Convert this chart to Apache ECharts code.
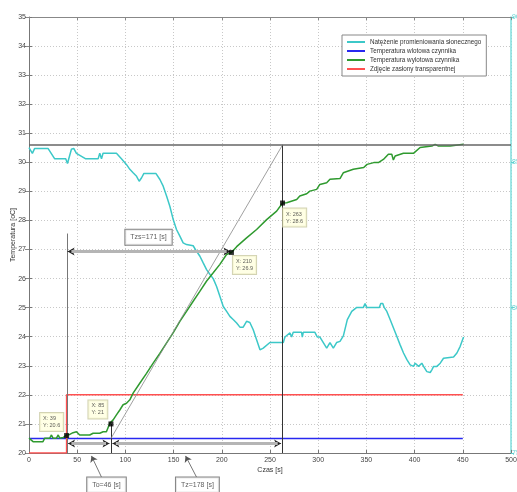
<!DOCTYPE html>
<html><head><meta charset="utf-8">
<script src="https://cdn.jsdelivr.net/npm/echarts@6/dist/echarts.min.js"></script>
<style>html,body{margin:0;padding:0;background:#fff}#c{width:517px;height:492px}</style>
</head><body><div id="c"></div>
<script>
// ---- data ----
const seriesNames = ['Natężenie promieniowania słonecznego','Temperatura wlotowa czynnika','Temperatura wylotowa czynnika','Zdjęcie zasłony transparentnej'];
// irradiance (right axis units) : [time s, value]
const irradiance = [[0,855.1],[3.5,853.1],[5.9,854.8],[19.7,854.8],[26.7,851.2],[38.1,851.2],[39.9,849.6],[44,854.5],[46.4,854.8],[49.2,853.1],[58.9,851.2],[71.7,851.2],[73.4,853.1],[75.2,851.2],[76.8,853.1],[90.7,853.1],[95.9,851.2],[101.2,849.2],[104.6,847.6],[108,846.4],[111.6,845.2],[114.3,843.5],[116.8,844.7],[119.2,846.2],[131.6,846.2],[135.8,844.1],[139.2,841.8],[142.7,838.4],[146.1,834.9],[149.6,830.3],[153,826.9],[156.5,824.6],[159.9,822.3],[163.4,821.7],[170.3,821.3],[173.8,819.4],[177.3,817.7],[180.7,815.4],[184.2,813.1],[187.6,811.5],[191.1,810.0],[194.6,807.3],[198,803.9],[201.5,800.4],[205,798.7],[208.4,797.0],[211.8,795.9],[215.4,794.7],[218.8,793.3],[222.2,793.3],[225.7,795.3],[229.1,794.9],[232.6,792.4],[236.1,789.0],[239.6,785.5],[243,786.1],[249.9,788.0],[263.8,788.0],[265.5,789.9],[270.7,791.3],[272.4,789.9],[274.1,791.5],[282.8,791.5],[283.5,789.9],[284.5,791.5],[296.6,791.5],[299,789.9],[301.8,789.9],[305.3,788.0],[308.8,786.1],[312.2,788.0],[315.7,786.1],[319.1,788.0],[322.6,788.4],[326.1,790.3],[330.2,795.9],[334.8,798.7],[340,800.1],[346.9,800.1],[348.6,801.4],[350.4,800.1],[363.5,800.1],[364.9,801.4],[367,801.4],[368.4,800.1],[371.2,798.7],[374.6,795.9],[378.1,793.0],[381.6,790.1],[385,787.2],[388.5,784.4],[392,782.1],[395.4,780.3],[398.9,779.8],[400.6,780.9],[404.1,779.8],[407.5,780.9],[409.3,779.8],[412.7,778.0],[416.2,777.7],[417.9,778.6],[419.7,779.8],[423.1,779.8],[426.6,780.9],[430,782.6],[440.4,783.0],[443.9,784.4],[447.3,786.7],[450.8,789.9]];
const inletTemp = [[0,20.5],[450,20.5]];
const outletTemp = [[0,20.51],[4.2,20.39],[14.5,20.39],[16.3,20.51],[21.5,20.51],[23.3,20.62],[24.9,20.51],[28.5,20.51],[30.3,20.62],[31.9,20.51],[35.4,20.53],[38.8,20.62],[42.3,20.64],[45.7,20.70],[49.2,20.73],[50.9,20.68],[52.6,20.62],[63,20.62],[66.5,20.68],[73.4,20.68],[76.9,20.73],[80.3,20.73],[83.8,21.02],[87.3,21.14],[90.7,21.31],[94.2,21.48],[97.6,21.66],[101.1,21.71],[104.6,21.83],[108,22.06],[114.9,22.40],[121.9,22.74],[128.8,23.09],[135.7,23.43],[142.6,23.78],[149.5,24.13],[156.5,24.53],[163.4,24.87],[170.3,25.22],[177.2,25.56],[184.1,25.91],[191.1,26.20],[198,26.49],[204.9,26.83],[210,26.9],[215.4,27.1],[225.7,27.4],[236.1,27.69],[246.5,28.03],[256.9,28.32],[263,28.6],[267.3,28.61],[277.7,28.72],[280.9,28.84],[288.1,28.92],[291.3,29.01],[298.4,29.07],[301.7,29.24],[308.8,29.30],[312.2,29.42],[322.6,29.44],[326,29.64],[336.4,29.76],[347.2,29.82],[350.7,29.93],[357.6,29.99],[359.4,30.04],[362.4,29.99],[367.6,30.10],[372.8,30.28],[376.3,30.28],[378,30.08],[379.8,30.22],[388.4,30.31],[398.8,30.31],[405.7,30.51],[417.9,30.56],[421.3,30.62],[424.8,30.56],[436.9,30.56],[438.6,30.62],[450.7,30.62]];
const curtain = [[0,20],[39,20],[39,22],[450,22]];
const dataTips = [[39,20.6],[85,21],[210,26.9],[263,28.6]];
const dataTipText = ['X: 39\nY: 20.6','X: 85\nY: 21','X: 210\nY: 26.9','X: 263\nY: 28.6'];
const steadyLevel = 30.6;
const timeAxis = {min:0, max:500, step:50};
const tempAxis = {min:20, max:35, step:1};
const irrAxis = {min:750, max:900, step:50};

const colors = ['#3cc8c8','#2828f0','#2f9a2f','#ff5050'];
const FONT = 'Liberation Sans';

const tipOffsets = [[-24,-20],[-20,-21],[4,6],[3,8]];

const chart = echarts.init(document.getElementById('c'), null, {renderer:'canvas'});

function seg(a, b, style, sym){
  return [{coord:a, symbol: sym ? sym[0] : 'none', lineStyle: style},
          {coord:b, symbol: sym ? sym[1] : 'none'}];
}
const gray = {color:'#777', width:1, type:'solid'};
const dark = {color:'#333', width:1, type:'solid'};
const shaft = {color:'#b5b5b5', width:3, type:'solid'};
const arrowLn = {color:'#222', width:0.8, type:'solid'};

const annotLines = [
  seg([0,steadyLevel],[500,steadyLevel],{color:'#666',width:1.5,type:'solid'}),
  seg([263,20],[263,steadyLevel],dark),
  seg([39.5,20],[39.5,27.55],gray),
  seg([85,20],[85,21],dark),
  seg([85,20.5],[263,steadyLevel],{color:'#888',width:0.8,type:'solid'}),
  // Tzs arrow
  seg([40,26.93],[209,26.93],arrowLn,['arrow','arrow']),
  seg([44,26.93],[205,26.93],shaft),
  // To arrow
  seg([40.5,20.33],[83.5,20.33],arrowLn,['arrow','arrow']),
  seg([44,20.33],[80,20.33],shaft),
  // Tz arrow
  seg([86.5,20.33],[261.5,20.33],arrowLn,['arrow','arrow']),
  seg([90,20.33],[258,20.33],shaft)
];
const pointers = [
  {coords:[[75.2,19.17],[64.8,19.9]]},
  {coords:[[173.8,19.17],[162.4,19.9]]}
];

const boxes = [
  {value:[124,27.42], text:'Tzs=171 [s]'},
  {value:[80.4,18.9], text:'To=46 [s]'},
  {value:[174.7,18.9], text:'Tz=178 [s]'}
];

const option = {
  animation:false,
  backgroundColor:'#fff',
  textStyle:{fontFamily:FONT},
  grid:{left:29, right:6, top:17, bottom:39, containLabel:false, outerBoundsMode:'none'},
  legend:{
    orient:'vertical', left:342, top:35, padding:[4,5], itemGap:3,
    itemWidth:18, itemHeight:2, backgroundColor:'#fff',
    borderColor:'#888', borderWidth:1,
    textStyle:{fontSize:6.3, color:'#333', fontFamily:FONT},
    data: seriesNames.map(n=>({name:n, icon:'rect'}))
  },
  xAxis:[
    {type:'value', min:timeAxis.min, max:timeAxis.max, interval:timeAxis.step, position:'bottom',
     axisLine:{lineStyle:{color:'#777'}}, axisTick:{inside:true,length:3,lineStyle:{color:'#777'}},
     axisLabel:{fontSize:7,color:'#444',margin:4,fontFamily:FONT},
     splitLine:{show:true,lineStyle:{color:'#c8c8c8',type:[1,2],width:1}},
     name:'Czas [s]', nameLocation:'middle', nameGap:14, nameMoveOverlap:false,
     nameTextStyle:{fontSize:7,color:'#333',fontFamily:FONT}},
    {type:'value', min:timeAxis.min, max:timeAxis.max, interval:timeAxis.step, position:'top',
     axisLine:{onZero:false,lineStyle:{color:'#888'}}, axisTick:{inside:true,length:3,lineStyle:{color:'#888'}},
     axisLabel:{show:false}, splitLine:{show:false}}
  ],
  yAxis:[
    {type:'value', min:tempAxis.min, max:tempAxis.max, interval:tempAxis.step, position:'left',
     axisLine:{show:true,onZero:false,lineStyle:{color:'#777'}}, axisTick:{show:true,inside:true,length:3,lineStyle:{color:'#777'}},
     axisLabel:{fontSize:7,color:'#444',margin:3,fontFamily:FONT},
     splitLine:{show:true,lineStyle:{color:'#c8c8c8',type:[1,2],width:1}},
     name:'Temperatura [oC]', nameLocation:'middle', nameGap:12, nameMoveOverlap:false,
     nameTextStyle:{fontSize:7,color:'#333',fontFamily:FONT}},
    {type:'value', min:irrAxis.min, max:irrAxis.max, interval:irrAxis.step, position:'right',
     axisLine:{show:true,onZero:false,lineStyle:{color:'#7fdede',width:1.5}},
     axisTick:{show:true,length:3,lineStyle:{color:'#5fd0d0'}},
     axisLabel:{fontSize:7,color:'#5fd0d0',margin:1,fontFamily:FONT}, splitLine:{show:false}},
    {type:'value', min:tempAxis.min, max:tempAxis.max, interval:tempAxis.step, position:'right',
     axisLine:{show:false}, axisTick:{show:true,inside:true,length:4,lineStyle:{color:'#888'}},
     axisLabel:{show:false}, splitLine:{show:false}}
  ],
  series:[
    {name:seriesNames[0], type:'line', yAxisIndex:1, data:irradiance, showSymbol:false, symbol:'none',
     lineStyle:{color:colors[0],width:1.5}, itemStyle:{color:colors[0]}, z:3},
    {name:seriesNames[1], type:'line', data:inletTemp, showSymbol:false, symbol:'none',
     lineStyle:{color:colors[1],width:1.5}, itemStyle:{color:colors[1]}, z:2},
    {name:seriesNames[2], type:'line', data:outletTemp, showSymbol:false, symbol:'none',
     lineStyle:{color:colors[2],width:1.5}, itemStyle:{color:colors[2]}, z:4},
    {name:seriesNames[3], type:'line', data:curtain, showSymbol:false, symbol:'none',
     lineStyle:{color:colors[3],width:1.5}, itemStyle:{color:colors[3]}, z:2},
    {type:'line', data:[], clip:false, silent:true, z:5,
     markLine:{silent:true, animation:false, symbolSize:[6,7], precision:2,
       label:{show:false}, emphasis:{disabled:true}, data:annotLines}},
    {type:'lines', coordinateSystem:'cartesian2d', data:pointers, clip:false, silent:true, z:6,
     symbol:['none','arrow'], symbolSize:6, lineStyle:{color:'#555',width:0.8,opacity:1}},
    {type:'scatter', data:dataTips.map((p,i)=>({value:p,
        label:{show:true, formatter:dataTipText[i], position:tipOffsets[i]}})),
     symbol:'rect', symbolSize:5, itemStyle:{color:'#000'}, clip:false, silent:true, z:8,
     label:{fontSize:5.5, lineHeight:7, color:'#333', backgroundColor:'#ffffde',
            borderColor:'#c8c8a0', borderWidth:1, padding:[2,3], fontFamily:FONT}},
    {type:'scatter', data:boxes.map(b=>({value:b.value, label:{formatter:b.text}})),
     symbolSize:0, clip:false, silent:true, z:9,
     label:{show:true, position:'inside', fontSize:7, color:'#333', backgroundColor:'#fff',
            borderColor:'#666', borderWidth:1, padding:[4,5], fontFamily:FONT}}
  ]
};
chart.setOption(option);
</script></body></html>
